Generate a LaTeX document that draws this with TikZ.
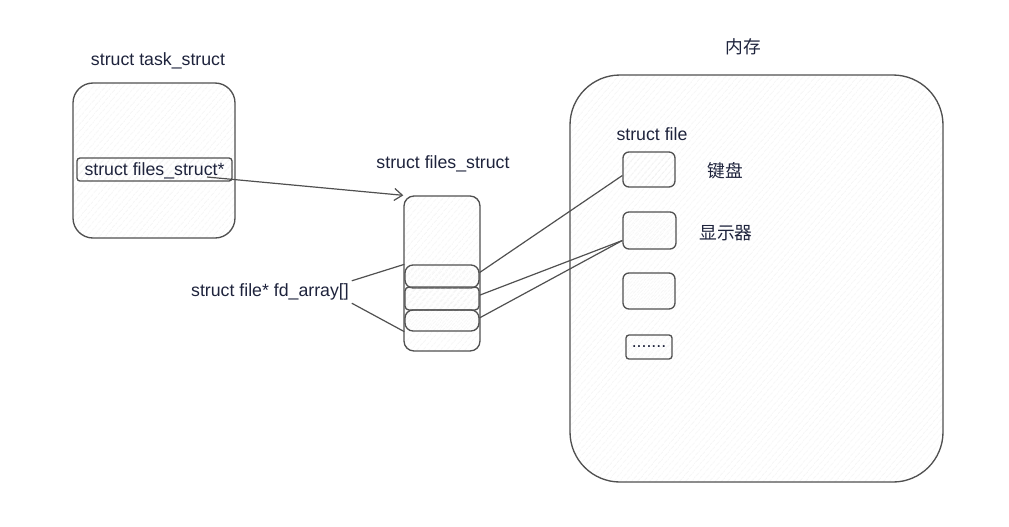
\documentclass[tikz,border=0pt]{standalone}
\usepackage{fontspec}
\setmainfont{Liberation Sans}
\newfontfamily\cjkfont{Noto Sans CJK SC}
\usetikzlibrary{arrows.meta, patterns.meta, positioning}
\definecolor{inkblue}{RGB}{30,35,60}
\definecolor{edgegray}{RGB}{80,80,80}

\begin{document}
\begin{tikzpicture}[x=0.75pt, y=-0.75pt,
  box/.style={draw=edgegray, line width=1pt, inner sep=0pt,
              pattern={Lines[angle=50, distance=4pt, line width=0.4pt]},
              pattern color=black!10},
  txt/.style={text=inkblue, font=\fontsize{13.3}{15}\selectfont},
  wire/.style={draw=edgegray, line width=0.9pt}]
  \useasboundingbox (0,0) rectangle (1009,526);

  % Memory
  \node[txt] (memtitle) at (743,47) {\cjkfont 内存};
  \node[box, rounded corners=37.5pt, minimum width=279.75pt,
        minimum height=305.25pt] (mem) at (756.5,278.5) {};
  \node[txt] (filetitle) at (652,134) {struct file};
  \node[box, rounded corners=4.5pt, minimum width=39pt,
        minimum height=26.25pt] (kbd) at (649,169.5) {};
  \node[box, rounded corners=4.5pt, minimum width=39.75pt,
        minimum height=27.75pt] (disp) at (649.5,230.5) {};
  \node[box, rounded corners=4.5pt, minimum width=39pt,
        minimum height=27pt] (spare) at (649,291) {};
  \node[box, rounded corners=2.25pt, minimum width=34.5pt,
        minimum height=18pt, txt] (more) at (649,347) {.......};
  \node[txt] (kbdlabel) at (725,171) {\cjkfont 键盘};
  \node[txt] (displabel) at (726,233) {\cjkfont 显示器};

  % task_struct
  \node[txt] (tasktitle) at (158,61) {struct task\_struct};
  \node[box, rounded corners=15pt, minimum width=121.5pt,
        minimum height=116.25pt] (task) at (154,160.5) {};
  \node[box, rounded corners=2.25pt, minimum width=116.25pt,
        minimum height=17.25pt, txt, text depth=1pt] (ptrfield) at (154.5,169.5)
        {struct files\_struct*};
  \coordinate (ptr) at (207,177);

  % files_struct
  \node[txt] (filestitle) at (443,164) {struct files\_struct};
  \node[box, rounded corners=7.5pt, minimum width=57pt,
        minimum height=116.25pt] (files) at (442,273.5) {};
  \node[box, rounded corners=6pt, minimum width=55.5pt,
        minimum height=17.25pt] (cell1) at (442,276.5) {};
  \node[box, rounded corners=3pt, minimum width=55.5pt,
        minimum height=17.25pt] (cell2) at (442,298.5) {};
  \node[box, rounded corners=6pt, minimum width=55.5pt,
        minimum height=15.75pt] (cell3) at (442,320.5) {};
  \node[txt, inner sep=2pt] (fdlabel) at (270,292) {struct file* fd\_array[]};

  % Pointer arrow
  \draw[wire, -{Straight Barb[length=6pt, width=9pt]}] (ptr) -- (files.north west);

  % fd_array bracket
  \draw[wire] (fdlabel.north east) -- (cell1.north west);
  \draw[wire] (fdlabel.south east) -- (cell3.south west);

  % fd entries to files
  \draw[wire] ([yshift=3pt]cell1.east) -- ([yshift=-4.5pt]kbd.west);
  \draw[wire] ([yshift=2.5pt]cell2.east) -- ([yshift=-7.5pt]disp.west);
  \draw[wire] ([yshift=2pt]cell3.east) -- ([yshift=-7.5pt]disp.west);
\end{tikzpicture}
\end{document}
